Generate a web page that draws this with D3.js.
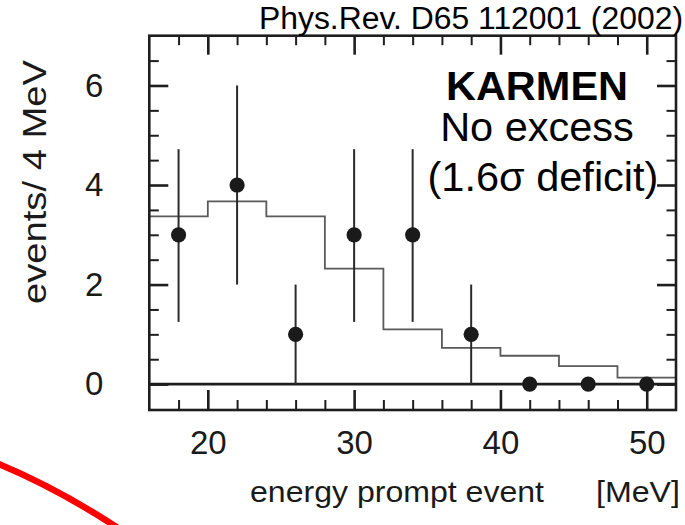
<!DOCTYPE html>
<html>
<head>
<meta charset="utf-8">
<script src="https://cdn.jsdelivr.net/npm/d3@7"></script>
<style>
  html, body { margin: 0; padding: 0; background: #fff; }
  svg { display: block; }
  text { font-family: "Liberation Sans", Arial, Helvetica, sans-serif; }
</style>
</head>
<body>
<div id="chart"></div>
<script>
// ---- data ----
const energies   = [18, 22, 26, 30, 34, 38, 42, 46, 50];           // MeV, bin centres
const events     = [3, 4, 1, 3, 3, 1, 0, 0, 0];                    // observed events / 4 MeV
const errLow     = [1.25, 2.0, 0, 1.25, 1.25, 0, 0, 0, 0];         // lower end of error bar
const errHigh    = [4.72, 6.0, 2.0, 4.72, 4.72, 2.0, 0, 0, 0];     // upper end of error bar
const binEdges   = [16, 20, 24, 28, 32, 36, 40, 44, 48, 52];       // histogram edges
const expected   = [3.37, 3.67, 3.37, 2.32, 1.10, 0.73, 0.57, 0.36, 0.13]; // expectation histogram
const xMajorTicks = [20, 30, 40, 50];
const xMinorTicks = [18, 22, 24, 26, 28, 32, 34, 36, 38, 42, 44, 46, 48];
const yMajorTicks = [0, 2, 4, 6];
const yMinorTicks = [0.5, 1, 1.5, 2.5, 3, 3.5, 4.5, 5, 5.5, 6.5];
const reference  = "Phys.Rev. D65 112001 (2002)";
const noteLines  = ["KARMEN", "No excess", "(1.6σ deficit)"];
const xTitle     = "energy prompt event";
const xUnit      = "[MeV]";
const yTitle     = "events/ 4 MeV";

// ---- layout ----
const W = 685, H = 525;
const L = 149.3, R = 676, T = 35.7, B = 410;
const ink = "#1e1e1e";

const svg = d3.select("#chart").append("svg")
  .attr("width", W).attr("height", H);

const x = d3.scaleLinear().domain([16, 52]).range([L, R]);
const y = d3.scaleLinear().domain([-0.52, 7]).range([B, T]);

// red annotation arc (decoration from the slide)
svg.append("path")
  .attr("d", "M-6,462 Q58,488 124,532")
  .attr("fill", "none").attr("stroke", "#ff0000").attr("stroke-width", 6.5);

// ---- axes (ticks inward) ----
function styleAxis(g) {
  g.select(".domain").remove();
  g.selectAll(".tick line").attr("stroke", ink);
  g.selectAll("text").attr("fill", "#1a1a1a")
    .style("font-family", "'Liberation Sans', Arial, sans-serif");
}

// bottom
svg.append("g").attr("transform", `translate(0,${B})`)
  .call(d3.axisBottom(x).tickValues(xMinorTicks).tickSize(-10).tickFormat(""))
  .call(styleAxis).selectAll("line").attr("stroke-width", 2);
svg.append("g").attr("transform", `translate(0,${B})`)
  .call(d3.axisBottom(x).tickValues(xMajorTicks).tickSize(-20).tickPadding(20.5).tickFormat(d3.format("d")))
  .call(styleAxis)
  .call(g => g.selectAll("line").attr("stroke-width", 2.6))
  .call(g => g.selectAll("text").attr("font-size", 33));
// top
svg.append("g").attr("transform", `translate(0,${T})`)
  .call(d3.axisTop(x).tickValues(xMinorTicks).tickSize(-9.5).tickFormat(""))
  .call(styleAxis).selectAll("line").attr("stroke-width", 2);
svg.append("g").attr("transform", `translate(0,${T})`)
  .call(d3.axisTop(x).tickValues(xMajorTicks).tickSize(-19).tickFormat(""))
  .call(styleAxis).selectAll("line").attr("stroke-width", 2.6);
// left
svg.append("g").attr("transform", `translate(${L},0)`)
  .call(d3.axisLeft(y).tickValues(yMinorTicks).tickSize(-9.5).tickFormat(""))
  .call(styleAxis).selectAll("line").attr("stroke-width", 2);
svg.append("g").attr("transform", `translate(${L},0)`)
  .call(d3.axisLeft(y).tickValues(yMajorTicks).tickSize(-19).tickPadding(46).tickFormat(d3.format("d")))
  .call(styleAxis)
  .call(g => g.selectAll("line").attr("stroke-width", 2.6))
  .call(g => g.selectAll("text").attr("font-size", 33));
// right
svg.append("g").attr("transform", `translate(${R},0)`)
  .call(d3.axisRight(y).tickValues(yMinorTicks).tickSize(-9.5).tickFormat(""))
  .call(styleAxis).selectAll("line").attr("stroke-width", 2);
svg.append("g").attr("transform", `translate(${R},0)`)
  .call(d3.axisRight(y).tickValues(yMajorTicks).tickSize(-19).tickFormat(""))
  .call(styleAxis).selectAll("line").attr("stroke-width", 2.6);

// zero line
svg.append("line")
  .attr("x1", x(16)).attr("x2", x(52)).attr("y1", y(0)).attr("y2", y(0))
  .attr("stroke", ink).attr("stroke-width", 2.6);

// ---- expectation histogram ----
const histPts = [];
expected.forEach((v, i) => {
  histPts.push([binEdges[i], v]);
  histPts.push([binEdges[i + 1], v]);
});
svg.append("path")
  .datum(histPts)
  .attr("d", d3.line().x(d => x(d[0])).y(d => y(d[1])))
  .attr("fill", "none").attr("stroke", "#5a5a5a").attr("stroke-width", 1.8);

// ---- error bars ----
svg.append("g").selectAll("line")
  .data(energies.map((e, i) => ({ e, lo: errLow[i], hi: errHigh[i] })).filter(d => d.hi > d.lo))
  .join("line")
  .attr("x1", d => x(d.e)).attr("x2", d => x(d.e))
  .attr("y1", d => y(d.lo)).attr("y2", d => y(d.hi))
  .attr("stroke", "#2a2a2a").attr("stroke-width", 2);

// ---- data points ----
svg.append("g").selectAll("circle")
  .data(energies.map((e, i) => ({ e, v: events[i] })))
  .join("circle")
  .attr("cx", d => x(d.e)).attr("cy", d => y(d.v)).attr("r", 7.6)
  .attr("fill", "#1a1a1a");

// ---- frame ----
svg.append("rect")
  .attr("x", L).attr("y", T).attr("width", R - L).attr("height", B - T)
  .attr("fill", "none").attr("stroke", ink).attr("stroke-width", 2.6);

// ---- titles ----
svg.append("text")
  .attr("x", 0).attr("y", 0)
  .attr("transform", `translate(46,182) rotate(-90)`)
  .attr("text-anchor", "middle").attr("font-size", 34).attr("fill", "#1a1a1a")
  .attr("textLength", 244).attr("lengthAdjust", "spacingAndGlyphs")
  .text(yTitle);

svg.append("text")
  .attr("x", 250).attr("y", 502)
  .attr("font-size", 30).attr("fill", "#1a1a1a")
  .attr("textLength", 294).attr("lengthAdjust", "spacingAndGlyphs")
  .text(xTitle);
svg.append("text")
  .attr("x", 596).attr("y", 502)
  .attr("font-size", 30).attr("fill", "#1a1a1a")
  .attr("textLength", 84).attr("lengthAdjust", "spacingAndGlyphs")
  .text(xUnit);

// ---- annotations ----
svg.append("text")
  .attr("x", 683).attr("y", 29).attr("text-anchor", "end")
  .attr("font-size", 31).attr("fill", "#000")
  .attr("textLength", 424).attr("lengthAdjust", "spacingAndGlyphs")
  .text(reference);

// three-line note as one text block
const noteY = [100, 141, 191];
const note = svg.append("text")
  .attr("text-anchor", "middle")
  .attr("font-size", 41.5)
  .attr("fill", "#000");
note.selectAll("tspan")
  .data(noteLines)
  .join("tspan")
  .attr("x", (d, i) => i === 2 ? 543 : 537)
  .attr("y", (d, i) => noteY[i])
  .attr("font-weight", (d, i) => i === 0 ? "bold" : "normal")
  .text(d => d);
</script>
</body>
</html>
